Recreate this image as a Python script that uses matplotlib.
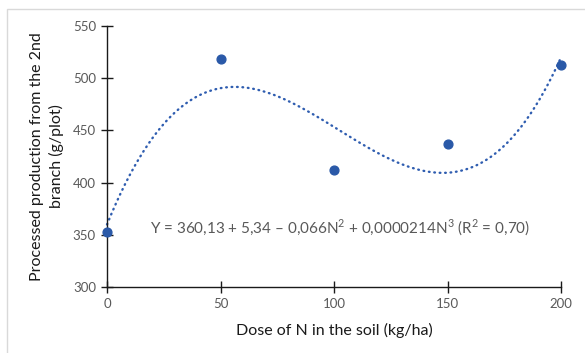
import numpy as np
import matplotlib
matplotlib.use("Agg")
import matplotlib.pyplot as plt
from matplotlib.patches import Rectangle

dose = [0, 50, 100, 150, 200]
production = [353, 518, 412, 437, 513]
x_ticks = [0, 50, 100, 150, 200]
y_ticks = [300, 350, 400, 450, 500, 550]
equation = "Y = 360,13 + 5,34 \u2013 0,066N$^{2}$ + 0,0000214N$^{3}$ (R$^{2}$ = 0,70)"

plt.rcParams['font.family'] = ['Lato', 'DejaVu Sans']
plt.rcParams['mathtext.fontset'] = 'custom'
plt.rcParams['mathtext.rm'] = 'Lato'

fig = plt.figure(figsize=(5.85, 3.53), dpi=100)
# light frame
fig.patches.append(Rectangle((7/585, -0.1), 1.2, 1 - 9/353 + 0.1, transform=fig.transFigure,
                             fill=False, edgecolor='#d9d9d9', linewidth=1.0))
ax = fig.add_axes([107/585, 1 - 287/353, (561 - 107)/585, (287 - 26)/353])

coef = np.polyfit(dose, production, 3)
xs = np.linspace(0, 200, 400)
ax.plot(xs, np.polyval(coef, xs), linestyle=(0, (0.3, 2.0)), color='#2F5DB0',
        linewidth=1.7, dash_capstyle='round', clip_on=False)
ax.scatter(dose, production, s=40, color='#2A59A8', zorder=3, clip_on=False)

ax.set_xlim(0, 200)
ax.set_ylim(300, 550)
ax.set_xticks(x_ticks)
ax.set_yticks(y_ticks)
for s in ['top', 'right']:
    ax.spines[s].set_visible(False)
for s in ['left', 'bottom']:
    ax.spines[s].set_color('#1a1a1a')
    ax.spines[s].set_linewidth(1.0)
ax.tick_params(direction='inout', length=8, width=1.0, color='#1a1a1a',
               labelcolor='#595959', labelsize=9.5, pad=4)

ax.text(19, 357, equation, fontsize=11, color='#595959', va='center', ha='left')

ax.set_xlabel("Dose of N in the soil (kg/ha)", fontsize=11.5, color='#1a1a1a', labelpad=9)
ax.set_ylabel("Processed production from the 2nd\nbranch (g/plot)", fontsize=11.5,
              color='#1a1a1a', labelpad=6, linespacing=1.45)

fig.savefig("out.png", dpi=100)
